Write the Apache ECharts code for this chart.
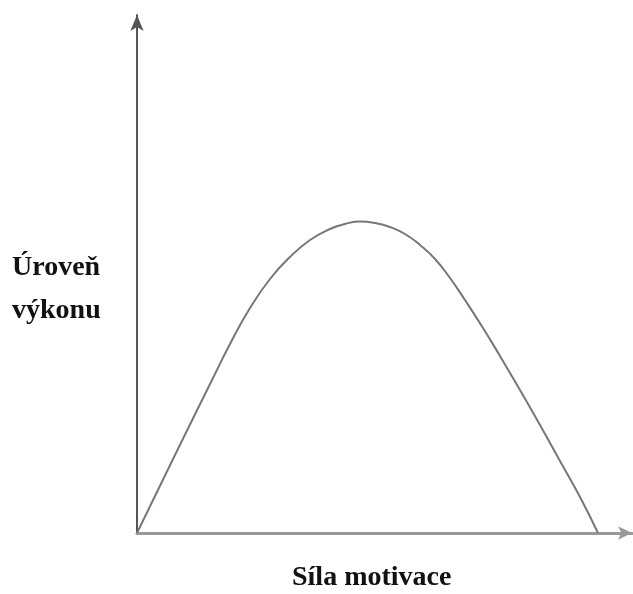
<!DOCTYPE html>
<html>
<head>
<meta charset="utf-8">
<script src="https://cdn.jsdelivr.net/npm/echarts@6/dist/echarts.min.js"></script>
<style>
html,body{margin:0;padding:0;background:#fff;}
#main{width:633px;height:594px;}
</style>
</head>
<body>
<div id="main"></div>
<script>
// křivka výkonu (Yerkes-Dodson)
var motivace = [0, 38, 75, 93, 113, 133, 153, 173, 193, 208, 223, 238, 253, 268, 283, 298, 313, 328, 346, 363, 383, 403, 423, 443, 461];
var vykon = [0, 78, 153, 189, 225, 254, 276, 293, 304, 309, 311.5, 310, 306, 299, 288, 274, 255, 233, 205, 177, 143, 108, 72, 36, 0];
var osaX = 'Síla motivace';
var osaY = 'Úroveň\nvýkonu';

var points = motivace.map(function (m, i) { return [m, vykon[i]]; });

var chart = echarts.init(document.getElementById('main'));
var option = {
  animation: false,
  grid: { left: 137, right: 1, top: 15, bottom: 61 },
  xAxis: {
    type: 'value', min: 0, max: 495,
    splitLine: { show: false }, axisTick: { show: false }, axisLabel: { show: false },
    axisLine: { lineStyle: { color: '#999', width: 3 }, symbol: ['none', 'arrow'], symbolSize: [10, 14] }
  },
  yAxis: {
    type: 'value', min: 0, max: 518,
    splitLine: { show: false }, axisTick: { show: false }, axisLabel: { show: false },
    axisLine: { lineStyle: { color: '#555', width: 2 }, symbol: ['none', 'arrow'], symbolSize: [10, 16] }
  },
  graphic: [
    {
      type: 'text', left: 12, top: 246,
      style: { text: osaY, font: 'bold 28px "Liberation Serif"', fill: '#111', lineHeight: 43 }
    },
    {
      type: 'text', left: 292, top: 564,
      style: { text: osaX, font: 'bold 28px "Liberation Serif"', fill: '#111' }
    }
  ],
  series: [{
    type: 'line',
    data: points,
    smooth: 0.5,
    symbol: 'none',
    lineStyle: { color: '#777', width: 2 }
  }]
};
chart.setOption(option);
</script>
</body>
</html>
